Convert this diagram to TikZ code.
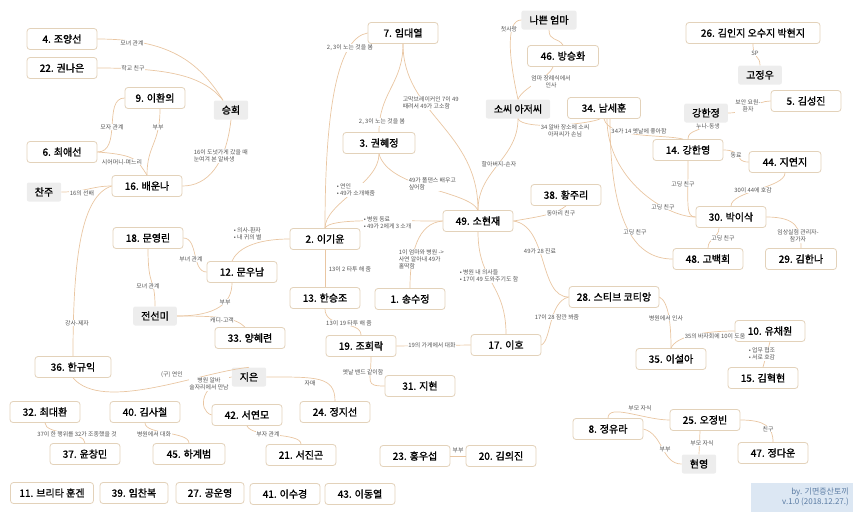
\documentclass[tikz,border=0pt]{standalone}
\usepackage{fontspec}
\setmainfont{Noto Sans CJK KR}
\newfontfamily\kb{Noto Sans CJK KR}[FakeBold=1.3]
\definecolor{edgec}{HTML}{E9C6A2}
\definecolor{boxc}{HTML}{E3D2BA}
\definecolor{grayc}{HTML}{EDEDED}
\definecolor{lblc}{HTML}{555555}
\definecolor{credc}{HTML}{DCE7F3}
\definecolor{credt}{HTML}{5A7BA3}
\begin{document}
\begin{tikzpicture}[x=1pt,y=-1pt,
  box/.style={draw=boxc, fill=white, rounded corners=3pt, line width=0.8pt, minimum height=21pt, minimum width=70pt, inner sep=2pt, font=\kb\fontsize{10}{12}\selectfont},
  gbox/.style={fill=grayc, rounded corners=2pt, minimum height=19pt, inner xsep=8pt, font=\kb\fontsize{10}{12}\selectfont},
  lbl/.style={font=\fontsize{5.9}{6.9}\selectfont, text=lblc, inner sep=0.6pt, align=center, fill=white},
  lk/.style={draw=edgec, line width=0.7pt}]
\useasboundingbox (0,0) rectangle (853,512);
% boxes
\node[box] (n4) at (62,39) {4. 조양선};
\node[box] (n22) at (62,68) {22. 권나은};
\node[box, minimum width=60pt] (n9) at (155,98) {9. 이환의};
\node[box] (n6) at (62,152) {6. 최애선};
\node[box] (n16) at (147,186) {16. 배운나};
\node[box] (n18) at (148,238) {18. 문영린};
\node[box] (n12) at (242,272) {12. 문우남};
\node[box] (n33) at (250,338) {33. 양혜련};
\node[box, minimum width=76pt] (n36) at (73,367) {36. 한규익};
\node[box] (n32) at (45,412) {32. 최대환};
\node[box] (n37) at (85,454) {37. 윤창민};
\node[box] (n40) at (145,412) {40. 김사철};
\node[box, minimum width=72pt] (n45) at (189,454) {45. 하계범};
\node[box, minimum width=83pt] (n11) at (52,493) {11. 브리타 훈겐};
\node[box, minimum width=68pt] (n39) at (134,493) {39. 임찬복};
\node[box, minimum width=68pt] (n27) at (210,493) {27. 공운영};
\node[box] (n41) at (285,494) {41. 이수경};
\node[box] (n43) at (360,494) {43. 이동열};
\node[box] (n42) at (247,415) {42. 서연모};
\node[box] (n24) at (335,412) {24. 정지선};
\node[box] (n21) at (301,455) {21. 서진곤};
\node[box] (n23) at (415,456) {23. 홍우섭};
\node[box] (n20) at (501,456) {20. 김의진};
\node[box] (n19) at (361,346) {19. 조희락};
\node[box] (n31) at (420,386) {31. 지현};
\node[box] (n17) at (506,345) {17. 이호};
\node[box] (n13) at (325,298) {13. 한승조};
\node[box] (n1) at (410,299) {1. 송수정};
\node[box] (n2) at (325,239) {2. 이기윤};
\node[box, minimum width=72pt] (n3) at (379,143) {3. 권혜정};
\node[box] (n7) at (403,33) {7. 임대열};
\node[box] (n49) at (478,221) {49. 소현재};
\node[box] (n38) at (566,195) {38. 황주리};
\node[box, minimum width=90pt] (n28) at (614,297) {28. 스티브 코티앙};
\node[box, minimum width=71pt] (n46) at (563,56) {46. 방승화};
\node[box, minimum width=73pt] (n34) at (604,108) {34. 남세훈};
\node[box, minimum width=134pt] (n26) at (753,33) {26. 김인지 오수지 박현지};
\node[box] (n5) at (806,101) {5. 김성진};
\node[box] (n14) at (688,150) {14. 강한영};
\node[box, minimum width=72pt] (n44) at (785,162) {44. 지연지};
\node[box] (n30) at (731,217) {30. 박이삭};
\node[box] (n48) at (708,259) {48. 고백희};
\node[box, minimum width=71pt] (n29) at (801,259) {29. 김한나};
\node[box] (n10) at (770,331) {10. 유채원};
\node[box] (n35) at (671,359) {35. 이설아};
\node[box] (n15) at (763,378) {15. 김혁현};
\node[box] (n8) at (608,429) {8. 정유라};
\node[box] (n25) at (705,420) {25. 오정빈};
\node[box] (n47) at (773,453) {47. 정다운};
% gray nodes
\node[gbox] (sh) at (231,110) {승희};
\node[gbox] (cj) at (44,192) {찬주};
\node[gbox] (jsm) at (155,316) {전선미};
\node[gbox] (je) at (249,377) {지은};
\node[gbox] (bm) at (549,20) {나쁜 엄마};
\node[gbox] (ss) at (518,109) {소씨 아저씨};
\node[gbox] (gj) at (760,75) {고정우};
\node[gbox] (kh) at (706,113) {강한정};
\node[gbox] (hy) at (699,464) {현영};
% credit
\node[fill=credc, minimum width=102pt, minimum height=29pt, inner sep=0pt, anchor=north west] (cr) at (751,483) {};
\node[anchor=east, align=right, inner sep=0pt, font=\fontsize{8}{10}\selectfont, text=credt] (crt) at (849,497) {by. 기면증산토끼\\v.1.0 (2018.12.27.)};
% links
\draw[lk] (n4.east) .. controls +(70,0) and +(-25,-40) .. ([xshift=-8pt]sh.north);
\draw[lk] (n22.east) .. controls +(70,0) and +(-20,-25) .. ([xshift=-8pt]sh.north);
\draw[lk] (n9.west) .. controls +(-22,0) and +(25,0) .. (n6.east);
\draw[lk] ([xshift=5pt]n9.south) .. controls +(0,35) and +(0,-30) .. (n16.north);
\draw[lk] (n6.east) .. controls +(40,3) and +(-10,-15) .. (n16.north);
\draw[lk] (sh.south) .. controls +(-5,45) and +(25,0) .. (n16.east);
\draw[lk] (cj.east) .. controls +(25,0) and +(-20,0) .. (n16.west);
\draw[lk] (n16.west) .. controls +(-30,10) and +(0,-100) .. (n36.north);
\draw[lk] (n36.south) .. controls +(30,35) and +(-50,5) .. (je.north);
\draw[lk] (je.west) .. controls +(-30,5) and +(-15,-5) .. (n42.west);
\draw[lk] (je.east) .. controls +(50,0) and +(0,-25) .. (n24.north);
\draw[lk] (n42.south) .. controls +(5,12) and +(0,-12) .. (n21.north);
\draw[lk] (n40.south) .. controls +(0,12) and +(0,-12) .. (n45.north);
\draw[lk] (n32.south) .. controls +(0,12) and +(0,-12) .. (n37.north);
\draw[lk] (n23.east) -- (n20.west);
\draw[lk] (n19.east) -- (n17.west);
\draw[lk] ([xshift=10pt]n19.south) .. controls +(0,25) and +(-20,0) .. (n31.west);
\draw[lk] (n13.south) .. controls +(0,20) and +(0,-15) .. (n19.north);
\draw[lk] (n2.south) -- (n13.north);
\draw[lk] (n2.west) .. controls +(-35,0) and +(5,-12) .. ([xshift=-10pt]n12.north);
\draw[lk] (n3.south) .. controls +(0,30) and +(0,-25) .. (n2.north);
\draw[lk] (n7.west) .. controls +(-30,5) and +(0,-120) .. (n2.north);
\draw[lk] (n7.south) .. controls +(0,40) and +(0,-40) .. (n3.north);
\draw[lk] (n7.south) .. controls +(0,70) and +(0,-80) .. (n49.north);
\draw[lk] (n3.south) .. controls +(10,35) and +(-10,-20) .. (n49.north);
\draw[lk] (n2.north) .. controls +(5,-10) and +(-60,0) .. (n49.west);
\draw[lk] (n49.west) .. controls +(-25,2) and +(0,-35) .. (n1.north);
\draw[lk] (n49.south) .. controls +(0,50) and +(0,-50) .. (n17.north);
\draw[lk] (n49.east) .. controls +(30,-5) and +(-10,8) .. (n38.south);
\draw[lk] (n49.east) .. controls +(35,5) and +(-30,0) .. (n28.west);
\draw[lk] (n28.west) .. controls +(-20,5) and +(10,-5) .. (n17.east);
\draw[lk] (n49.north) .. controls +(0,-40) and +(0,40) .. (ss.south);
\draw[lk] (ss.north) .. controls +(-10,-45) and +(-15,0) .. (bm.west);
\draw[lk] (bm.south) .. controls +(0,12) and +(-5,-8) .. (n46.north);
\draw[lk] (ss.north) .. controls +(5,-12) and +(-5,12) .. ([xshift=-10pt]n46.south);
\draw[lk] (ss.south) .. controls +(5,12) and +(-10,5) .. ([xshift=-4pt]n34.south);
\draw[lk] (n34.south) .. controls +(5,20) and +(-20,-5) .. ([xshift=-5pt]n14.north);
\draw[lk] (kh.south) .. controls +(-5,10) and +(0,-10) .. (n14.north);
\draw[lk] (kh.east) .. controls +(20,0) and +(-15,0) .. (n5.west);
\draw[lk] (n26.south) .. controls +(0,15) and +(0,-10) .. (gj.north);
\draw[lk] (n14.east) .. controls +(20,0) and +(-15,0) .. (n44.west);
\draw[lk] (n44.south) .. controls +(0,15) and +(0,-15) .. (n30.north);
\draw[lk] (n14.south) .. controls +(0,45) and +(-10,0) .. (n30.west);
\draw[lk] ([xshift=3pt]n34.south) .. controls +(0,60) and +(-30,0) .. (n30.west);
\draw[lk] ([xshift=6pt]n34.south) .. controls +(0,100) and +(-40,0) .. (n48.west);
\draw[lk] ([xshift=-12pt]n30.south) .. controls +(0,10) and +(0,-10) .. (n48.north);
\draw[lk] (n30.east) .. controls +(30,0) and +(0,-20) .. (n29.north);
\draw[lk] (n28.east) .. controls +(10,5) and +(0,-20) .. (n35.north);
\draw[lk] (n35.north) .. controls +(5,-12) and +(-30,0) .. (n10.west);
\draw[lk] (n10.south) -- (n15.north);
\draw[lk] (n8.north) .. controls +(0,-15) and +(-25,0) .. (n25.west);
\draw[lk] (n8.east) .. controls +(20,5) and +(-20,0) .. (hy.west);
\draw[lk] ([xshift=-5pt]n25.south) -- (hy.north);
\draw[lk] (n25.east) .. controls +(25,0) and +(0,-15) .. (n47.north);
\draw[lk] (n18.east) .. controls +(15,0) and +(-15,0) .. (n12.west);
\draw[lk] (n18.south) .. controls +(0,40) and +(0,-30) .. (jsm.north);
\draw[lk] (jsm.east) .. controls +(40,0) and +(0,20) .. ([xshift=-10pt]n12.south);
\draw[lk] (jsm.east) .. controls +(40,0) and +(-10,-10) .. ([xshift=-5pt]n33.north);
% labels
\node[lbl] (l1) at (132,43) {모녀 관계};
\node[lbl] (l2) at (133,68) {학교 친구};
\node[lbl] (l3) at (112,127) {모자 관계};
\node[lbl] (l4) at (158,127) {부부};
\node[lbl] (l5) at (122,162) {시어머니-며느리};
\node[lbl, anchor=west, align=left] (l6) at (193,156) {16이 도넛가게 갔을 때\\눈여겨 본 알바생};
\node[lbl] (l7) at (82,193) {16의 선배};
\node[lbl] (l8) at (77,323) {강사-제자};
\node[lbl] (l9) at (172,375) {(구) 연인};
\node[lbl] (l10) at (350,48) {2, 3이 노는 것을 봄};
\node[lbl] (l11) at (382,122) {2, 3이 노는 것을 봄};
\node[lbl, anchor=west, align=left] (l12) at (402,103) {고막브레이커인 7이 49\\때려서 49가 고소함};
\node[lbl, anchor=west, align=left] (l13) at (408,184) {49가 폴댄스 배우고\\싶어함};
\node[lbl, anchor=west, align=left] (l14) at (336,190) {•\ 연인\\•\ 49가 소개해줌};
\node[lbl, anchor=west, align=left] (l15) at (363,223) {•\ 병원 동료\\•\ 49가 2에게 3 소개};
\node[lbl, anchor=west, align=left] (l16) at (233,234) {•\ 의사-환자\\•\ 내 귀의 별};
\node[lbl] (l17) at (350,269) {13이 2 타투 해 줌};
\node[lbl] (l18) at (349,323) {13이 19 타투 해 줌};
\node[lbl, anchor=west, align=left] (l19) at (398,259) {1이 엄마와 병원 ->\\사연 알아내 49가\\홀딱함};
\node[lbl, anchor=west, align=left] (l20) at (459,276) {•\ 병원 내 의사들\\•\ 17이 49 도와주기도 함};
\node[lbl] (l21) at (561,213) {동아리 친구};
\node[lbl] (l22) at (540,251) {49가 28 진료};
\node[lbl] (l23) at (557,317) {17이 28 잠깐 봐줌};
\node[lbl] (l24) at (499,164) {할아버지-손자};
\node[lbl] (l25) at (509,29) {첫사랑};
\node[lbl] (l26) at (551,82) {엄마 장례식에서\\인사};
\node[lbl] (l27) at (565,131) {34 알바 장소에 소씨\\아저씨가 손님};
\node[lbl] (l28) at (639,131) {34가 14 옛날에 좋아함};
\node[lbl] (l29) at (708,126) {누나-동생};
\node[lbl] (l30) at (748,106) {보안 요원-\\환자};
\node[lbl] (l31) at (755,53) {SP};
\node[lbl] (l32) at (736,155) {동료};
\node[lbl] (l33) at (753,190) {30이 44에 호감};
\node[lbl] (l34) at (683,184) {고딩 친구};
\node[lbl] (l35) at (663,207) {고딩 친구};
\node[lbl] (l36) at (635,232) {고딩 친구};
\node[lbl] (l37) at (723,238) {고딩 친구};
\node[lbl] (l38) at (798,236) {임상실험 관리자-\\참가자};
\node[lbl] (l39) at (666,318) {병원에서 인사};
\node[lbl] (l40) at (715,336) {35의 바자회에 10이 도움};
\node[lbl, anchor=west, align=left] (l41) at (748,354) {•\ 업무 협조\\•\ 서로 호감};
\node[lbl] (l42) at (432,345) {19의 가게에서 대화};
\node[lbl] (l43) at (363,372) {옛날 밴드 같이함};
\node[lbl] (l44) at (191,259) {부녀 관계};
\node[lbl] (l45) at (148,286) {모녀 관계};
\node[lbl] (l46) at (225,302) {부부};
\node[lbl] (l47) at (222,320) {캐디-고객};
\node[lbl] (l48) at (209,384) {병원 알바\\술자리에서 만남};
\node[lbl] (l49) at (310,383) {자매};
\node[lbl] (l50) at (268,434) {부자 관계};
\node[lbl] (l51) at (154,434) {병원에서 대화};
\node[lbl] (l52) at (77,434) {37이 한 행위를 32가 조종했을 것};
\node[lbl] (l53) at (458,450) {부부};
\node[lbl] (l54) at (640,408) {부모 자식};
\node[lbl] (l55) at (665,449) {부부};
\node[lbl] (l56) at (702,443) {부모 자식};
\node[lbl] (l57) at (768,429) {친구};
\end{tikzpicture}
\end{document}
